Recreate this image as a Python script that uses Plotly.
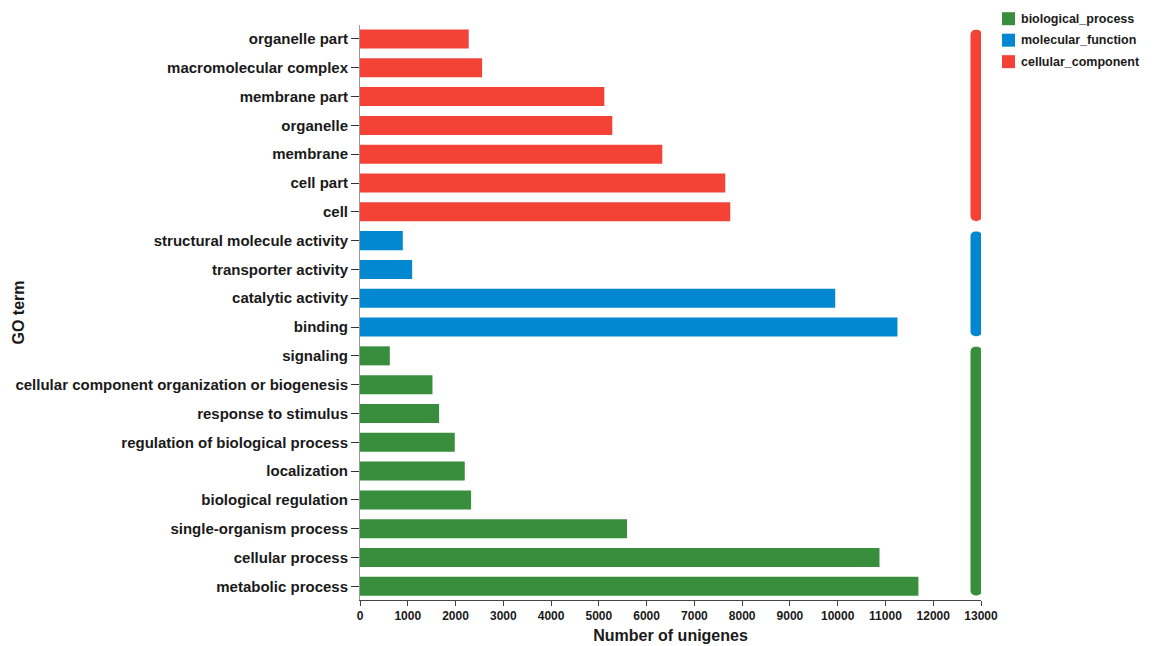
import plotly.graph_objects as go

# ---- data (bottom -> top) ----
terms = [
    "metabolic process", "cellular process", "single-organism process",
    "biological regulation", "localization", "regulation of biological process",
    "response to stimulus", "cellular component organization or biogenesis",
    "signaling",
    "binding", "catalytic activity", "transporter activity",
    "structural molecule activity",
    "cell", "cell part", "membrane", "organelle", "membrane part",
    "macromolecular complex", "organelle part",
]
counts = [
    11690, 10875, 5590, 2326, 2193, 1984, 1656, 1517, 624,
    11251, 9948, 1092, 896,
    7751, 7646, 6328, 5282, 5115, 2556, 2276,
]
groups = (["biological_process"] * 9 + ["molecular_function"] * 4
          + ["cellular_component"] * 7)
group_names = ["biological_process", "molecular_function", "cellular_component"]
group_colors = {"biological_process": "#388E3C",
                "molecular_function": "#0288D1",
                "cellular_component": "#F44336"}
x_ticks = list(range(0, 13001, 1000))

# ---- layout geometry (pixels) ----
W, H = 1155, 646
L, R, T, B = 359.5, 174, 25, 45.5
PW, PH = W - L - R, H - T - B


def px_x(px):
    return (px - L) / PW


def px_y(py):
    return (H - B - py) / PH


idx = list(range(len(terms)))
fig = go.Figure()

units_per_px = 13000 / PW
ind_w = 11.5 * units_per_px

for g in group_names:
    ys = [i for i in idx if groups[i] == g]
    fig.add_trace(go.Bar(
        y=ys, x=[counts[i] for i in ys], orientation="h",
        marker=dict(color=group_colors[g], line=dict(width=0)),
        width=0.66, showlegend=False, name=g,
    ))
    # group indicator bar on the right (rounded vertical bar)
    lo, hi = min(ys) - 0.32, max(ys) + 0.32
    fig.add_trace(go.Bar(
        x=[12900], y=[hi - lo], base=[lo], orientation="v",
        width=[ind_w], offset=-ind_w / 2,
        marker=dict(color=group_colors[g], line=dict(width=0), cornerradius=6),
        showlegend=False, cliponaxis=False, hoverinfo="skip",
    ))

bold = dict(family="Arial, Liberation Sans, sans-serif", color="#1a1a1a")

fig.update_layout(
    width=W, height=H,
    margin=dict(l=L, r=R, t=T, b=B, autoexpand=False),
    paper_bgcolor="white", plot_bgcolor="white",
    barmode="overlay",
    showlegend=False,
    font=dict(family="Arial, Liberation Sans, sans-serif"),
)
fig.update_xaxes(
    range=[0, 13000], tickvals=x_ticks, ticktext=[str(v) for v in x_ticks],
    showgrid=False, zeroline=False, showline=True, linecolor="#444",
    linewidth=1, ticks="outside", ticklen=5, tickcolor="#444",
    tickfont=dict(size=12, weight="bold", **bold),
    title=dict(text="Number of unigenes", standoff=7,
               font=dict(size=16, weight="bold", **bold)),
    automargin=False,
)
fig.update_yaxes(
    range=[-0.475, 19.485], tickvals=idx, ticktext=terms,
    showgrid=False, zeroline=False, showline=True, linecolor="#999",
    linewidth=1, ticks="outside", ticklen=8, tickcolor="#333",
    tickfont=dict(size=15, weight="bold", **bold),
    automargin=False,
)

# y-axis title
fig.add_annotation(
    text="GO term", xref="paper", yref="paper", x=px_x(18), y=px_y(313),
    xanchor="center", yanchor="middle",
    showarrow=False, textangle=-90,
    font=dict(size=16, weight="bold", **bold),
)

# legend (drawn manually to match the reference placement)
for k, g in enumerate(group_names):
    cy = 18.7 + k * 21.5
    fig.add_shape(type="rect", xref="paper", yref="paper",
                  x0=px_x(1002), x1=px_x(1015), y0=px_y(cy - 6.5), y1=px_y(cy + 6.5),
                  fillcolor=group_colors[g], line=dict(width=0))
    fig.add_annotation(text=g, xref="paper", yref="paper",
                       x=px_x(1019), y=px_y(cy), xanchor="left", yanchor="middle",
                       showarrow=False,
                       font=dict(size=12.5, weight="bold", **bold))

fig.write_html("out.html")
